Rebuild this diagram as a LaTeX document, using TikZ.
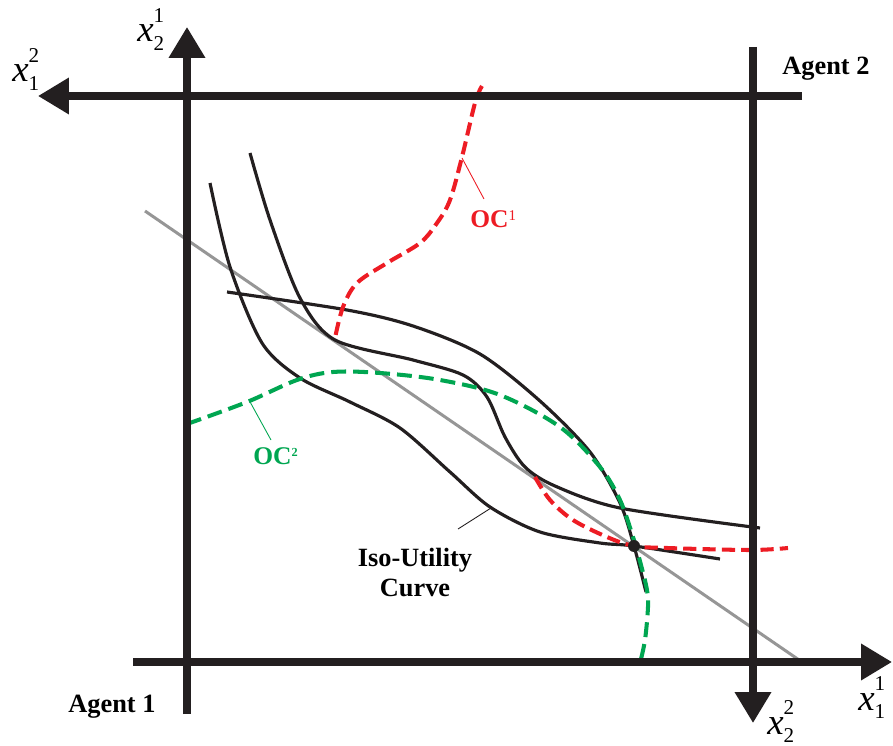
\documentclass[tikz,border=0pt]{standalone}
\usepackage{fontspec}
\setmainfont{Liberation Serif}
\usetikzlibrary{arrows.meta}
\definecolor{ocred}{RGB}{237,28,36}
\definecolor{ocgreen}{RGB}{0,166,81}
\definecolor{axisblack}{RGB}{35,31,32}
\definecolor{budgetgray}{RGB}{150,150,150}
\newcommand{\xlab}[2]{{\fontsize{21}{21}\selectfont\itshape x}\rlap{\raisebox{11pt}{\fontsize{12}{12}\selectfont #1}}\raisebox{-5pt}{\fontsize{12}{12}\selectfont #2}}
\begin{document}
\begin{tikzpicture}[x=0.02cm,y=-0.02cm,
  axisline/.style={line width=4pt, draw=axisblack, -{Triangle[length=0.62cm,width=0.7cm]}},
  indiff/.style={line width=1.8pt, draw=axisblack},
  budget/.style={line width=1.7pt, draw=budgetgray},
  ocone/.style={line width=2.3pt, draw=ocred, dash pattern=on 7.5pt off 3.5pt},
  octwo/.style={line width=2.3pt, draw=ocgreen, dash pattern=on 8.5pt off 4pt},
  leader/.style={line width=0.5pt},
  agentlbl/.style={font=\fontsize{15}{18}\selectfont\bfseries, inner sep=0pt, anchor=base west},
  oclbl/.style={font=\fontsize{14.5}{17}\selectfont\bfseries, inner sep=0pt, anchor=base west},
  axlbl/.style={inner sep=0pt, anchor=base west}]
\useasboundingbox (0,0) rectangle (893,746);

% budget line
\coordinate (bl1) at (145,211);
\coordinate (bl2) at (802,662);
\draw[budget] (bl1) -- (bl2);

% indifference curves
\draw[indiff] plot[smooth, tension=0.5] coordinates {(210,183) (230,267) (262,343) (300,378) (350,402) (400,428) (450,472) (490,507) (540,532) (600,543) (634,546) (720,559)};
\draw[indiff] plot[smooth, tension=0.5] coordinates {(250,153) (270,220) (300,298) (335,340) (413,360) (463,375) (487,397) (505,437) (525,467) (555,486) (620,508) (760,528)};
\draw[indiff] plot[smooth, tension=0.5] coordinates {(227,292) (347,310) (413,326) (480,354) (540,401) (590,452) (620,503) (634,546) (646,592)};

% offer curves
\draw[ocone] plot[smooth, tension=0.55] coordinates {(482,86) (475,103) (462,157) (450,200) (437,223) (420,243) (387,263) (357,283) (343,307) (335,338)};
\draw[ocone] plot[smooth, tension=0.55] coordinates {(535,477) (550,500) (573,520) (607,537) (634,546) (667,548) (750,550) (788,548)};
\draw[octwo] plot[smooth, tension=0.55] coordinates {(187,424) (247,402) (297,380) (333,372) (380,373) (440,380) (500,395) (560,427) (600,467) (620,500) (633,537) (641,565) (647,590) (648,607) (645,640) (640,663)};

% equilibrium point
\node[circle, fill=axisblack, inner sep=0pt, minimum size=0.24cm] (eq) at (634,546) {};

% axes
\coordinate (a1v0) at (187,714); \coordinate (a1v1) at (187,27);
\coordinate (a1h0) at (133,662); \coordinate (a1h1) at (892,662);
\coordinate (a2h0) at (802,96);  \coordinate (a2h1) at (38,96);
\coordinate (a2v0) at (753,47);  \coordinate (a2v1) at (753,723);
\draw[axisline] (a1v0) -- (a1v1);
\draw[axisline] (a1h0) -- (a1h1);
\draw[axisline] (a2h0) -- (a2h1);
\draw[axisline] (a2v0) -- (a2v1);

% axis labels
\node[axlbl] (x21) at (137,42) {\xlab{1}{2}};
\node[axlbl] (x12) at (12,82) {\xlab{2}{1}};
\node[axlbl] (x11) at (858,710) {\xlab{1}{1}};
\node[axlbl] (x22) at (767,734) {\xlab{2}{2}};

\node[agentlbl] (ag2) at (782,75) {Agent 2};
\node[agentlbl] (ag1) at (68,712) {Agent 1};

% offer curve labels
\node[oclbl, text=ocred] (oc1) at (470,228) {OC\raisebox{4pt}{\fontsize{8.5}{9}\selectfont\mdseries 1}};
\node[oclbl, text=ocgreen] (oc2) at (253,465) {OC\raisebox{5pt}{\fontsize{7}{7}\selectfont 2}};
\coordinate (oc1a) at (462,158); \coordinate (oc1b) at (484,199);
\coordinate (oc2a) at (249,400); \coordinate (oc2b) at (271,440);
\draw[leader, ocred] (oc1a) -- (oc1b);
\draw[leader, ocgreen] (oc2a) -- (oc2b);

% iso-utility label
\node[font=\fontsize{15}{17.6}\selectfont\bfseries, align=center, inner sep=0pt, anchor=base] (iso) at (415,597) {Iso-Utility\\Curve};
\coordinate (isoa) at (491,508); \coordinate (isob) at (458,529);
\draw[leader, axisblack] (isoa) -- (isob);
\end{tikzpicture}
\end{document}
